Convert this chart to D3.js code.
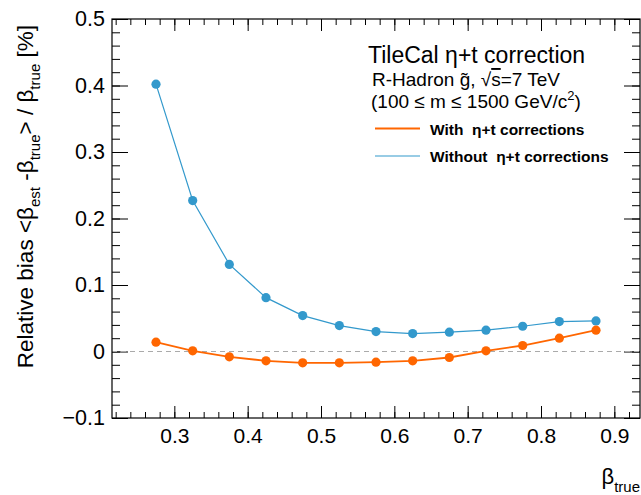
<!DOCTYPE html>
<html>
<head>
<meta charset="utf-8">
<script src="https://cdn.jsdelivr.net/npm/d3@7"></script>
<style>
  html, body { margin: 0; padding: 0; background: #fff; }
  svg { display: block; font-family: "Liberation Sans", Arial, Helvetica, sans-serif; }
</style>
</head>
<body>
<svg id="chart" width="641" height="495"></svg>
<script>
// beta_true bin centres
const betaTrue = [0.275, 0.325, 0.375, 0.425, 0.475, 0.525, 0.575, 0.625, 0.675, 0.725, 0.775, 0.825, 0.875];
// relative bias with the eta+t correction applied
const withCorr = [0.014, 0.001, -0.008, -0.014, -0.017, -0.017, -0.016, -0.014, -0.009, 0.001, 0.009, 0.020, 0.032];
// relative bias without the correction
const withoutCorr = [0.402, 0.227, 0.131, 0.081, 0.054, 0.039, 0.030, 0.027, 0.029, 0.032, 0.038, 0.045, 0.046];

const xTicks = [0.3, 0.4, 0.5, 0.6, 0.7, 0.8, 0.9];
const yTicks = [-0.1, 0, 0.1, 0.2, 0.3, 0.4, 0.5];

const colWith = "#ff6600";
const colWithout = "#3399cc";

const svg = d3.select("#chart");
const frameL = 112, frameR = 640, frameT = 19, frameB = 418;

const x = d3.scaleLinear().domain([0.215, 0.935]).range([frameL, frameR]);
const y = d3.scaleLinear().domain([-0.1, 0.5]).range([frameB, frameT]);

const xMinor = d3.range(0.22, 0.935, 0.02).map(v => +v.toFixed(2));
const yMinor = d3.range(-0.1, 0.5001, 0.02).map(v => +v.toFixed(2));

function styleAxis(g) {
  g.select(".domain").remove();
  g.selectAll(".tick line").attr("stroke", "#000").attr("stroke-width", 1);
}

// bottom axis: major + minor, ticks pointing inward
svg.append("g").attr("transform", `translate(0,${frameB})`)
  .call(d3.axisBottom(x).tickValues(xMinor).tickSize(-6).tickFormat(""))
  .call(styleAxis);
const xAx = svg.append("g").attr("transform", `translate(0,${frameB})`)
  .call(d3.axisBottom(x).tickValues(xTicks).tickSize(-12).tickPadding(10).tickFormat(d3.format(".1f")))
  .call(styleAxis);
xAx.selectAll("text").attr("font-size", 21).attr("fill", "#000")
  .attr("font-family", "Liberation Sans, Arial, sans-serif");

// top mirror ticks
svg.append("g").attr("transform", `translate(0,${frameT})`)
  .call(d3.axisTop(x).tickValues(xMinor).tickSize(-6).tickFormat(""))
  .call(styleAxis);
svg.append("g").attr("transform", `translate(0,${frameT})`)
  .call(d3.axisTop(x).tickValues(xTicks).tickSize(-12).tickFormat(""))
  .call(styleAxis);

// left axis
svg.append("g").attr("transform", `translate(${frameL},0)`)
  .call(d3.axisLeft(y).tickValues(yMinor).tickSize(-8).tickFormat(""))
  .call(styleAxis);
const yAx = svg.append("g").attr("transform", `translate(${frameL},0)`)
  .call(d3.axisLeft(y).tickValues(yTicks).tickSize(-16).tickPadding(7)
    .tickFormat(d => d === 0 ? "0" : d3.format(".1f")(d)))
  .call(styleAxis);
yAx.selectAll("text").attr("font-size", 21.5).attr("fill", "#000")
  .attr("font-family", "Liberation Sans, Arial, sans-serif");

// right mirror ticks
svg.append("g").attr("transform", `translate(${frameR},0)`)
  .call(d3.axisRight(y).tickValues(yMinor).tickSize(-8).tickFormat(""))
  .call(styleAxis);
svg.append("g").attr("transform", `translate(${frameR},0)`)
  .call(d3.axisRight(y).tickValues(yTicks).tickSize(-16).tickFormat(""))
  .call(styleAxis);

// zero reference line
svg.append("line")
  .attr("x1", frameL).attr("x2", frameR)
  .attr("y1", y(0)).attr("y2", y(0))
  .attr("stroke", "#aaaaaa").attr("stroke-width", 1.2)
  .attr("stroke-dasharray", "5,4");

// frame
svg.append("rect")
  .attr("x", frameL).attr("y", frameT)
  .attr("width", frameR - frameL).attr("height", frameB - frameT)
  .attr("fill", "none").attr("stroke", "#000").attr("stroke-width", 1.2);

// series
const line = d3.line().x(d => x(d[0])).y(d => y(d[1]));
const series = [
  { vals: withoutCorr, color: colWithout, width: 1.2 },
  { vals: withCorr, color: colWith, width: 1.8 }
];
series.forEach(s => {
  const pts = betaTrue.map((b, i) => [b, s.vals[i]]);
  svg.append("path").datum(pts)
    .attr("d", line).attr("fill", "none")
    .attr("stroke", s.color).attr("stroke-width", s.width);
  svg.append("g").selectAll("circle").data(pts).join("circle")
    .attr("cx", d => x(d[0])).attr("cy", d => y(d[1]))
    .attr("r", 4.6).attr("fill", s.color);
});

// axis titles
const xt = svg.append("text")
  .attr("x", frameR).attr("y", 484)
  .attr("text-anchor", "end").attr("font-size", 22);
xt.append("tspan").text("β");
xt.append("tspan").attr("font-size", 15).attr("dy", 8).text("true");

const yt = svg.append("text")
  .attr("transform", `translate(33,25) rotate(-90)`)
  .attr("text-anchor", "end").attr("font-size", 22.5);
yt.append("tspan").text("Relative bias <β");
yt.append("tspan").attr("font-size", 15).attr("dy", 7).text("est");
yt.append("tspan").attr("dy", -7).text(" -β");
yt.append("tspan").attr("font-size", 15).attr("dy", 7).text("true");
yt.append("tspan").attr("dy", -7).text("> / β");
yt.append("tspan").attr("font-size", 15).attr("dy", 7).text("true");
yt.append("tspan").attr("dy", -7).text(" [%]");

// header text block
svg.append("text").attr("x", 368).attr("y", 63).attr("font-size", 23).text("TileCal η+t correction");
const rh = svg.append("text").attr("x", 372).attr("y", 86).attr("font-size", 19);
rh.append("tspan").text("R-Hadron g\u0303, √");
rh.append("tspan").attr("text-decoration", "overline").text("s");
rh.append("tspan").text("=7 TeV");
const mt = svg.append("text").attr("x", 371).attr("y", 108).attr("font-size", 19);
mt.append("tspan").text("(100 ≤ m ≤ 1500 GeV/c");
mt.append("tspan").attr("font-size", 13).attr("dy", -8).text("2");
mt.append("tspan").attr("dy", 8).text(")");

// legend
const legend = [
  { label: "With  η+t corrections", color: colWith, width: 1.8, yy: 128.5 },
  { label: "Without  η+t corrections", color: colWithout, width: 1.2, yy: 156 }
];
legend.forEach(l => {
  svg.append("line").attr("x1", 375).attr("x2", 420).attr("y1", l.yy).attr("y2", l.yy)
    .attr("stroke", l.color).attr("stroke-width", l.width);
  svg.append("text").attr("x", 430).attr("y", l.yy + 6).attr("font-size", 15.5)
    .attr("font-weight", "bold").attr("xml:space", "preserve").text(l.label);
});
</script>
</body>
</html>
